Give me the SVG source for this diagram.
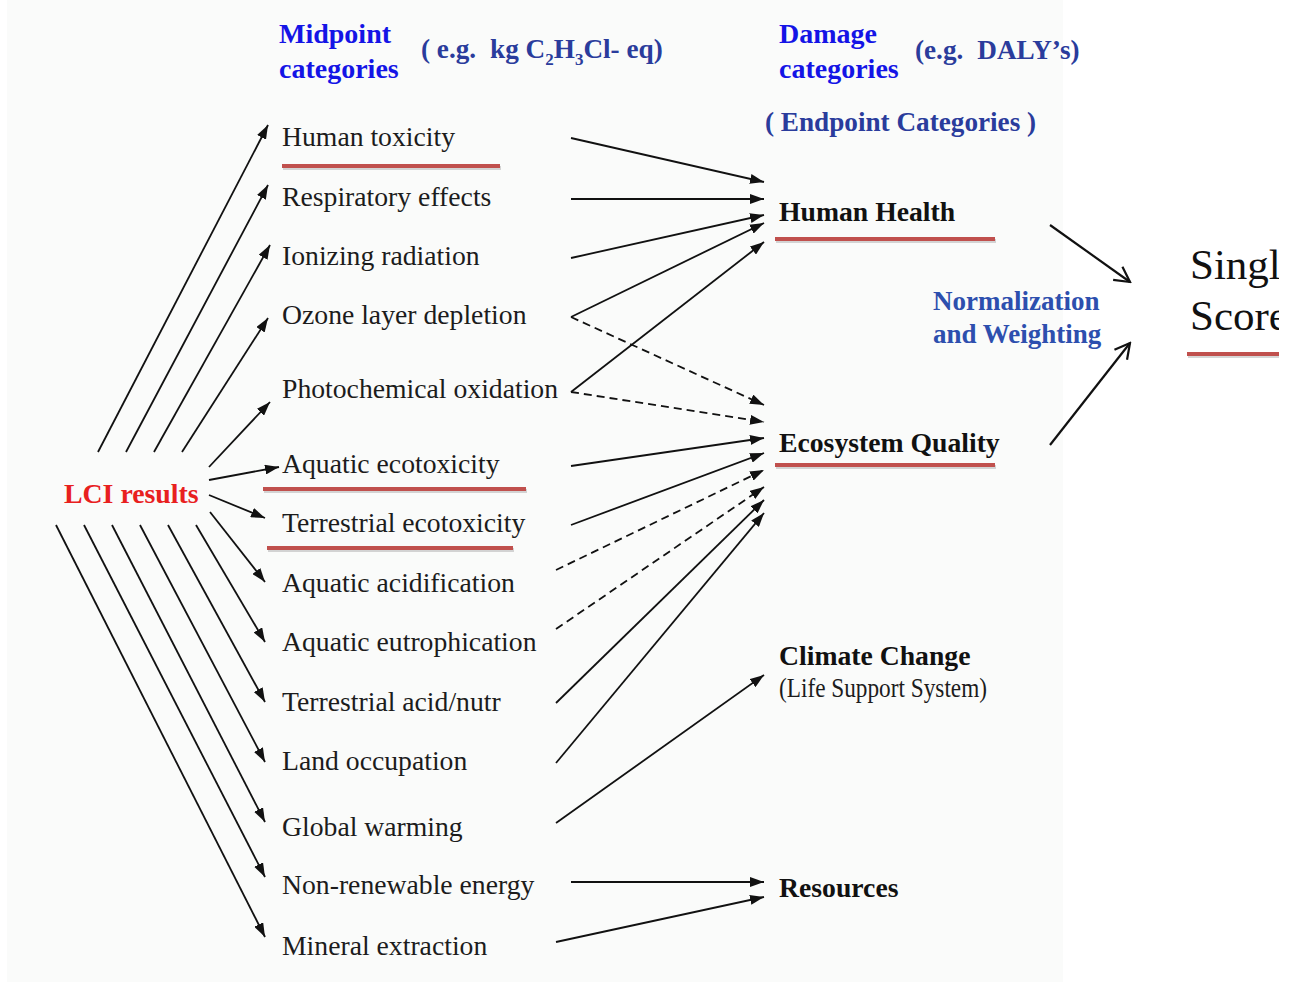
<svg xmlns="http://www.w3.org/2000/svg" width="1294" height="984" viewBox="0 0 1294 984">
<style>
.mid{font-family:"Liberation Serif","Times New Roman",serif;font-size:27.7px;fill:#1c1c1c}
.dmg{font-family:"Liberation Serif","Times New Roman",serif;font-size:27.7px;font-weight:bold;fill:#111}
.hdr{font-family:"Liberation Serif","Times New Roman",serif;font-size:28px;font-weight:bold;fill:#1414e6}
.eg{font-family:"Liberation Serif","Times New Roman",serif;font-size:27.2px;font-weight:bold;fill:#2a3c9c}
.nw{font-family:"Liberation Serif","Times New Roman",serif;font-size:27px;font-weight:bold;fill:#2d4fae}
.lci{font-family:"Liberation Serif","Times New Roman",serif;font-size:27.8px;font-weight:bold;fill:#e8201e}
.ss{font-family:"Liberation Serif","Times New Roman",serif;font-size:43px;fill:#111}
.c{stroke:#111;stroke-width:1.8;fill:none;marker-end:url(#ah)}
.d{stroke:#111;stroke-width:1.8;fill:none;stroke-dasharray:8 5;marker-end:url(#ah)}
.o{stroke:#111;stroke-width:2.2;fill:none;marker-end:url(#oh)}
.ul{fill:#c0504d}
.us{fill:#8a8a8a;opacity:.35}
</style>
<defs>
<marker id="ah" viewBox="0 0 14 10" refX="14" refY="5" markerWidth="14" markerHeight="10" orient="auto" markerUnits="userSpaceOnUse">
<path d="M0,0 L14,5 L0,10 z" fill="#111"/>
</marker>
<marker id="oh" viewBox="0 0 20 20" refX="18" refY="10" markerWidth="20" markerHeight="20" orient="auto" markerUnits="userSpaceOnUse">
<path d="M3,2 L18,10 L3,18" fill="none" stroke="#111" stroke-width="2.2"/>
</marker>
<clipPath id="clipR"><rect x="0" y="0" width="1279" height="984"/></clipPath>
</defs>
<rect x="0" y="0" width="1294" height="984" fill="#ffffff"/>
<rect x="7" y="0" width="1056" height="982" fill="#fafbfa"/>

<g id="headers">
<text class="hdr" x="279" y="43">Midpoint</text>
<text class="hdr" x="279" y="78">categories</text>
<text class="eg" x="421" y="58">( e.g.<tspan dx="14">kg C</tspan><tspan font-size="17" dy="7">2</tspan><tspan dy="-7">H</tspan><tspan font-size="17" dy="7">3</tspan><tspan dy="-7">Cl- eq)</tspan></text>
<text class="hdr" x="779" y="43">Damage</text>
<text class="hdr" x="779" y="78">categories</text>
<text class="eg" x="915" y="59">(e.g.<tspan dx="14">DALY’s)</tspan></text>
<text class="eg" x="765" y="131" fill="#2e4aa0" font-size="27.4">( Endpoint Categories )</text>
</g>

<g id="lci"><text class="lci" x="64" y="503">LCI results</text></g>

<g id="m-human-toxicity"><text class="mid" x="282" y="146">Human toxicity</text><rect class="us" x="283" y="166" width="218" height="4"/><rect class="ul" x="282" y="164" width="218" height="4"/></g>
<g id="m-respiratory"><text class="mid" x="282" y="206">Respiratory effects</text></g>
<g id="m-ionizing"><text class="mid" x="282" y="265">Ionizing radiation</text></g>
<g id="m-ozone"><text class="mid" x="282" y="324">Ozone layer depletion</text></g>
<g id="m-photochem"><text class="mid" x="282" y="398">Photochemical oxidation</text></g>
<g id="m-aq-eco"><text class="mid" x="282" y="473">Aquatic ecotoxicity</text><rect class="us" x="264" y="489" width="263" height="4"/><rect class="ul" x="263" y="487" width="263" height="4"/></g>
<g id="m-ter-eco"><text class="mid" x="282" y="532">Terrestrial ecotoxicity</text><rect class="us" x="268" y="548" width="246" height="4"/><rect class="ul" x="267" y="546" width="246" height="4"/></g>
<g id="m-aq-acid"><text class="mid" x="282" y="592">Aquatic acidification</text></g>
<g id="m-aq-eutro"><text class="mid" x="282" y="651">Aquatic eutrophication</text></g>
<g id="m-ter-acid"><text class="mid" x="282" y="711">Terrestrial acid/nutr</text></g>
<g id="m-land"><text class="mid" x="282" y="770">Land occupation</text></g>
<g id="m-global"><text class="mid" x="282" y="836">Global warming</text></g>
<g id="m-nonren"><text class="mid" x="282" y="894">Non-renewable energy</text></g>
<g id="m-mineral"><text class="mid" x="282" y="955">Mineral extraction</text></g>

<g id="d-human-health"><text class="dmg" x="779" y="221" font-size="28.5">Human Health</text><rect class="us" x="776" y="239" width="220" height="4"/><rect class="ul" x="775" y="237" width="220" height="4"/></g>
<g id="d-ecosystem"><text class="dmg" x="779" y="452">Ecosystem Quality</text><rect class="us" x="776" y="465" width="220" height="4"/><rect class="ul" x="775" y="463" width="220" height="4"/></g>
<g id="d-climate"><text class="dmg" x="779" y="665">Climate Change</text><text class="mid" x="779" y="697" font-size="21" textLength="208" lengthAdjust="spacingAndGlyphs">(Life Support System)</text></g>
<g id="d-resources"><text class="dmg" x="779" y="897">Resources</text></g>

<g id="normalization"><text class="nw" x="933" y="310">Normalization</text><text class="nw" x="933" y="343">and Weighting</text></g>

<g id="single-score" clip-path="url(#clipR)"><text class="ss" x="1190" y="279">Single</text><text class="ss" x="1190" y="330">Score</text><rect class="us" x="1188" y="354" width="100" height="4"/><rect class="ul" x="1187" y="352" width="100" height="4"/></g>

<g id="connectors">
<line class="c" x1="98" y1="452" x2="268" y2="125"/>
<line class="c" x1="126" y1="452" x2="268" y2="185"/>
<line class="c" x1="154" y1="452" x2="270" y2="245"/>
<line class="c" x1="182" y1="452" x2="268" y2="318"/>
<line class="c" x1="209" y1="467" x2="270" y2="402"/>
<line class="c" x1="209" y1="480" x2="279" y2="467"/>
<line class="c" x1="209" y1="495" x2="265" y2="518"/>
<line class="c" x1="210" y1="512" x2="265" y2="582"/>
<line class="c" x1="196" y1="525" x2="265" y2="642"/>
<line class="c" x1="168" y1="525" x2="265" y2="702"/>
<line class="c" x1="140" y1="525" x2="265" y2="762"/>
<line class="c" x1="112" y1="525" x2="265" y2="822"/>
<line class="c" x1="84" y1="525" x2="265" y2="877"/>
<line class="c" x1="56" y1="525" x2="265" y2="937"/>

<line class="c" x1="571" y1="138" x2="764" y2="182"/>
<line class="c" x1="571" y1="199" x2="764" y2="199"/>
<line class="c" x1="571" y1="258" x2="764" y2="215"/>
<line class="c" x1="571" y1="317" x2="764" y2="223"/>
<line class="c" x1="571" y1="392" x2="764" y2="242"/>
<line class="d" x1="571" y1="317" x2="764" y2="405"/>
<line class="d" x1="571" y1="392" x2="764" y2="422"/>
<line class="c" x1="571" y1="466" x2="764" y2="438"/>
<line class="c" x1="571" y1="525" x2="764" y2="453"/>
<line class="d" x1="556" y1="570" x2="764" y2="470"/>
<line class="d" x1="556" y1="629" x2="764" y2="487"/>
<line class="c" x1="556" y1="703" x2="764" y2="500"/>
<line class="c" x1="556" y1="763" x2="764" y2="513"/>
<line class="c" x1="556" y1="823" x2="764" y2="675"/>
<line class="c" x1="571" y1="882" x2="764" y2="882"/>
<line class="c" x1="556" y1="942" x2="764" y2="897"/>

<line class="o" x1="1050" y1="225" x2="1130" y2="282"/>
<line class="o" x1="1050" y1="445" x2="1130" y2="343"/>
</g>
</svg>
